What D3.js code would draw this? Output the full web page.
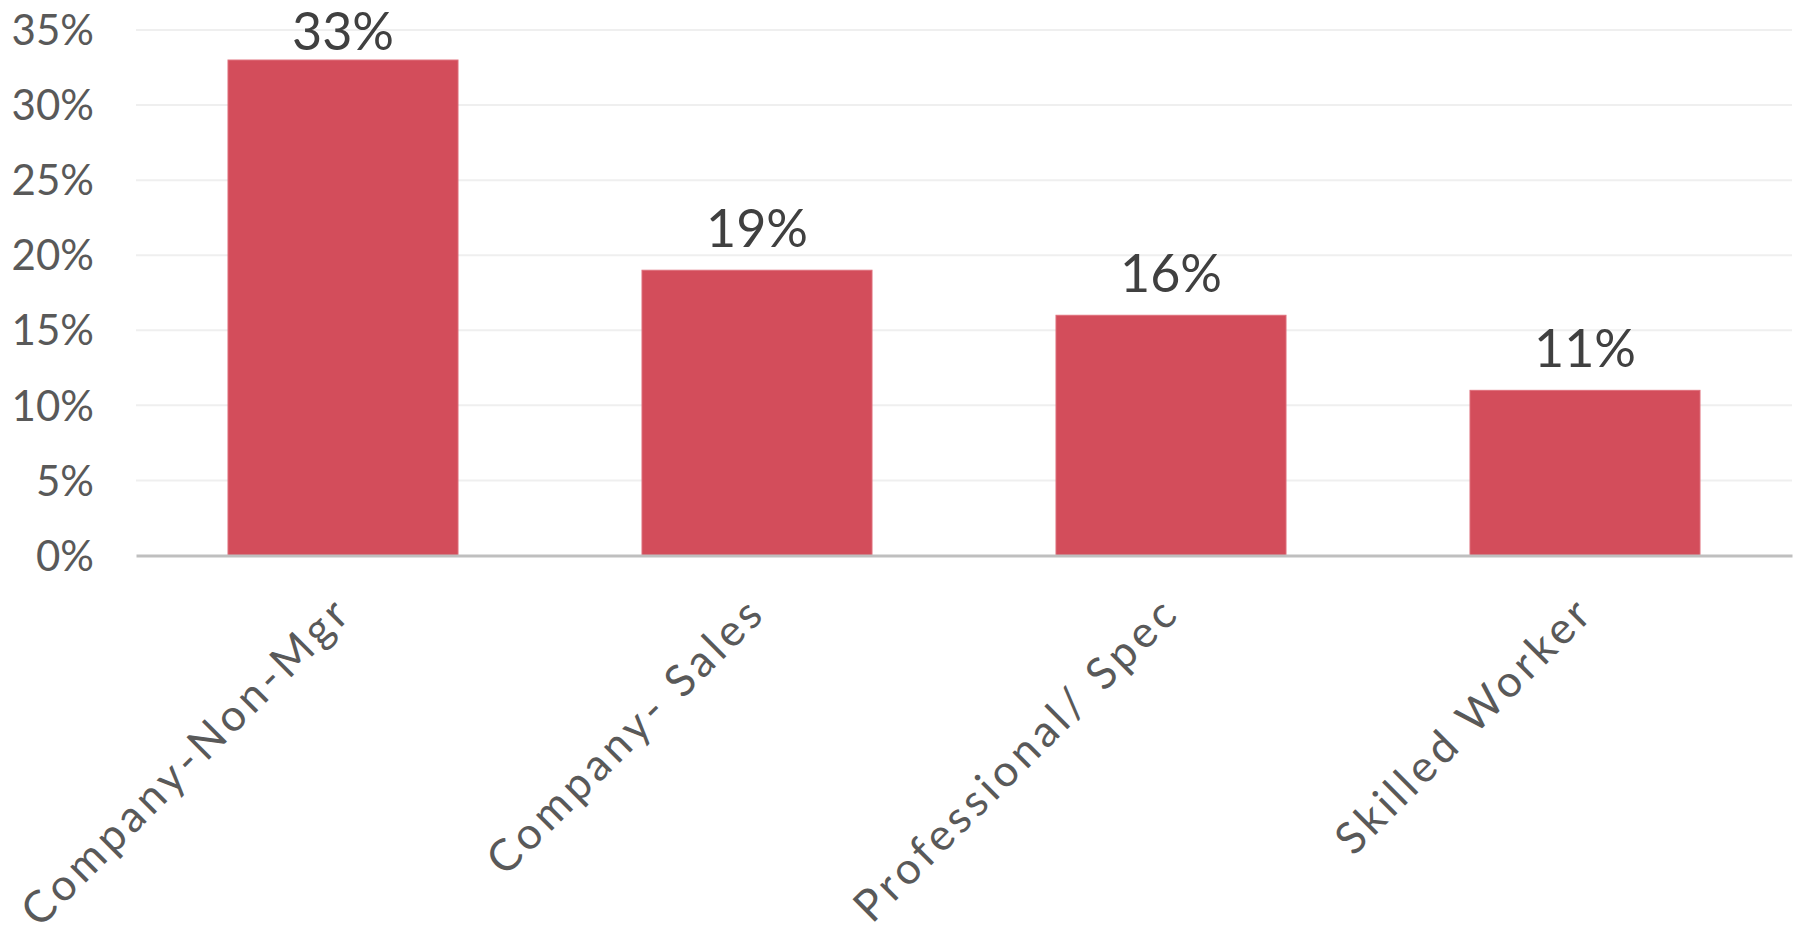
<!DOCTYPE html>
<html>
<head>
<meta charset="utf-8">
<script src="https://cdn.jsdelivr.net/npm/d3@7"></script>
<style>
  html, body { margin: 0; padding: 0; background: #ffffff; }
  svg { display: block; }
  text { font-family: "Lato", "Open Sans", sans-serif; }
</style>
</head>
<body>
<svg id="chart" width="1800" height="943"></svg>
<script>
// Share of respondents by occupation
const categories = ["Company-Non-Mgr", "Company- Sales", "Professional/ Spec", "Skilled Worker"];
const values = [33, 19, 16, 11];
const tickValues = [0, 5, 10, 15, 20, 25, 30, 35];

const svg = d3.select("#chart");
const plot = { left: 136, right: 1792, top: 30, bottom: 555.5 };

const x = d3.scaleBand()
  .domain(categories)
  .range([plot.left, plot.right])
  .paddingInner(0.4444)
  .paddingOuter(0.2222);

const y = d3.scaleLinear()
  .domain([0, 35])
  .range([plot.bottom, plot.top]);

// horizontal gridlines
svg.append("g")
  .selectAll("line")
  .data(tickValues.filter(d => d > 0))
  .join("line")
  .attr("x1", plot.left)
  .attr("x2", plot.right)
  .attr("y1", d => y(d))
  .attr("y2", d => y(d))
  .attr("stroke", "#efefef")
  .attr("stroke-width", 2);

// y-axis tick labels
const yAxis = d3.axisLeft(y)
  .tickValues(tickValues)
  .tickFormat(d => d + "%")
  .tickSize(0)
  .tickPadding(0);

const yg = svg.append("g")
  .attr("transform", `translate(94,0)`)
  .call(yAxis);
yg.select(".domain").remove();
yg.selectAll("text")
  .attr("font-size", 42)
  .attr("fill", "#595959")
  .attr("dy", "0.35em")
  .style("font-family", "Lato, 'Open Sans', sans-serif");

// bars
svg.append("g")
  .selectAll("rect")
  .data(values)
  .join("rect")
  .attr("x", (d, i) => x(categories[i]))
  .attr("width", x.bandwidth())
  .attr("y", d => y(d))
  .attr("height", d => y(0) - y(d))
  .attr("fill", "#d34d5b")
  .attr("stroke", "#df6f7b")
  .attr("stroke-width", 1);

// baseline axis
const xAxis = d3.axisBottom(x).tickSize(0).tickFormat("");
const xg = svg.append("g")
  .attr("transform", `translate(0,${y(0)})`)
  .call(xAxis);
xg.select(".domain")
  .attr("stroke", "#bfbfbf")
  .attr("stroke-width", 3);

// value labels (kept inside the top of the chart area)
svg.append("g")
  .selectAll("text")
  .data(values)
  .join("text")
  .attr("x", (d, i) => x(categories[i]) + x.bandwidth() / 2)
  .attr("y", d => Math.max(y(d) - 23, 50))
  .attr("text-anchor", "middle")
  .attr("font-size", 52)
  .attr("fill", "#404040")
  .text(d => d + "%");

// rotated category labels
svg.append("g")
  .selectAll("text")
  .data(categories)
  .join("text")
  .attr("transform", d => `translate(${x(d) + x.bandwidth() / 2 + 11},${y(0) + 59}) rotate(-45)`)
  .attr("text-anchor", "end")
  .attr("font-size", 44)
  .attr("letter-spacing", 4.5)
  .attr("fill", "#595959")
  .text(d => d);
</script>
</body>
</html>
